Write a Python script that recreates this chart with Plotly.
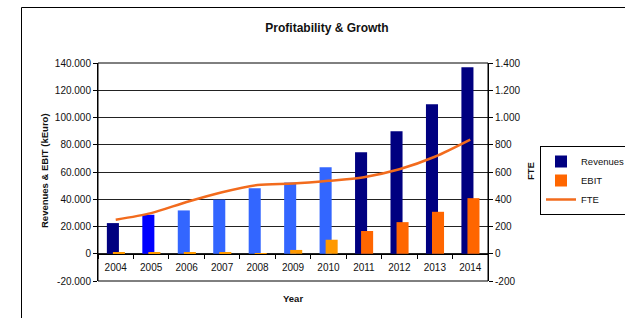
import plotly.graph_objects as go

years = ["2004", "2005", "2006", "2007", "2008", "2009", "2010", "2011", "2012", "2013", "2014"]
revenues = [22500, 28600, 31800, 39700, 48100, 52300, 63500, 74500, 90000, 109700, 136800]
ebit = [1000, 1000, 1000, 1000, -700, 2800, 10300, 16700, 23200, 30800, 40800]
fte = [250, 298, 380, 452, 505, 515, 535, 562, 620, 712, 838]

left_ticks = [-20000, 0, 20000, 40000, 60000, 80000, 100000, 120000, 140000]
left_labels = ["-20.000", "0", "20.000", "40.000", "60.000", "80.000", "100.000", "120.000", "140.000"]
right_ticks = [-200, 0, 200, 400, 600, 800, 1000, 1200, 1400]
right_labels = ["-200", "0", "200", "400", "600", "800", "1.000", "1.200", "1.400"]

NAVY = "#000080"
rev_colors = [NAVY, "#0000FF"] + ["#3366FF"] * 5 + [NAVY] * 4
EBIT_LIGHT = "#FF9900"
EBIT_DARK = "#FF6600"
split = 7  # 2004-2010 lighter shade

FONT = "Arial, Liberation Sans, sans-serif"

fig = go.Figure()
fig.add_trace(go.Bar(x=years, y=revenues, name="Revenues", marker=dict(color=rev_colors, line=dict(width=0)),
                     width=0.34, offset=-0.25))
fig.add_trace(go.Bar(x=years[split:], y=ebit[split:], name="EBIT", marker=dict(color=EBIT_DARK, line=dict(width=0)),
                     width=0.34, offset=-0.08))
fig.add_trace(go.Bar(x=years[:split], y=ebit[:split], name="EBIT", showlegend=False,
                     marker=dict(color=EBIT_LIGHT, line=dict(width=0)), width=0.34, offset=-0.08))
fig.add_trace(go.Scatter(x=years, y=fte, name="FTE", mode="lines", yaxis="y2",
                         line=dict(color="#F26B1D", width=2.5, shape="spline", smoothing=0.8)))

fig.update_layout(
    width=625, height=318,
    margin=dict(l=98, r=137, t=63, b=37),
    paper_bgcolor="white", plot_bgcolor="white",
    barmode="overlay",
    separators=",.",
    font=dict(family=FONT, size=10, color="#111"),
    showlegend=True,
    legend=dict(xref="container", yref="container", x=540 / 625, y=1 - 146 / 318,
                xanchor="left", yanchor="top", bordercolor="black", borderwidth=1,
                bgcolor="white", font=dict(size=9.5, color="#111"), tracegroupgap=0,
                itemwidth=30),
    title=dict(text="<b>Profitability & Growth</b>", xref="container", yref="container",
               x=327 / 625, y=1 - 28 / 318, xanchor="center", yanchor="middle",
               font=dict(size=12, color="#111", family=FONT)),
    xaxis=dict(type="category", anchor="free", position=0.125, showline=True, linecolor="black",
               linewidth=1, ticks="outside", tickson="boundaries", ticklen=4, tickcolor="black",
               ticklabelstandoff=4,
               showgrid=False, automargin=False, tickfont=dict(size=10, color="#111")),
    yaxis=dict(range=[-20000, 140000], tickvals=left_ticks, ticktext=left_labels,
               showgrid=True, gridcolor="#222", gridwidth=1, zeroline=False, automargin=False,
               showline=True, linecolor="black", ticks="outside", ticklen=4, tickcolor="black",
               tickfont=dict(size=10, color="#111")),
    yaxis2=dict(range=[-200, 1400], tickvals=right_ticks, ticktext=right_labels, overlaying="y",
                side="right", showgrid=False, zeroline=False, showline=True, linecolor="black",
                automargin=False, ticks="outside", ticklen=4, tickcolor="black",
                tickfont=dict(size=10, color="#111")),
    shapes=[
        dict(type="rect", xref="paper", yref="paper", x0=0, x1=1, y0=0, y1=1,
             line=dict(color="black", width=1), layer="above"),
        dict(type="rect", xref="paper", yref="paper", x0=(21.5 - 98) / 390, x1=(640 - 98) / 390,
             y0=(281 - 330) / 218, y1=(281 - 7.5) / 218, line=dict(color="black", width=1)),
    ],
    annotations=[
        dict(text="<b>Revenues & EBIT (kEuro)</b>", xref="paper", yref="paper",
             x=(44 - 98) / 390, y=(281 - 171) / 218, textangle=-90, showarrow=False,
             xanchor="center", yanchor="middle", font=dict(size=9.5, color="#111")),
        dict(text="<b>FTE</b>", xref="paper", yref="paper",
             x=(530 - 98) / 390, y=(281 - 171) / 218, textangle=-90, showarrow=False,
             xanchor="center", yanchor="middle", font=dict(size=9.5, color="#111")),
        dict(text="<b>Year</b>", xref="paper", yref="paper",
             x=(293 - 98) / 390, y=(281 - 298) / 218, showarrow=False,
             xanchor="center", yanchor="middle", font=dict(size=9.5, color="#111")),
    ],
)

fig.write_html("out.html", config={"displayModeBar": False},
               post_script="document.body.style.margin='0';document.body.style.overflow='hidden';")
